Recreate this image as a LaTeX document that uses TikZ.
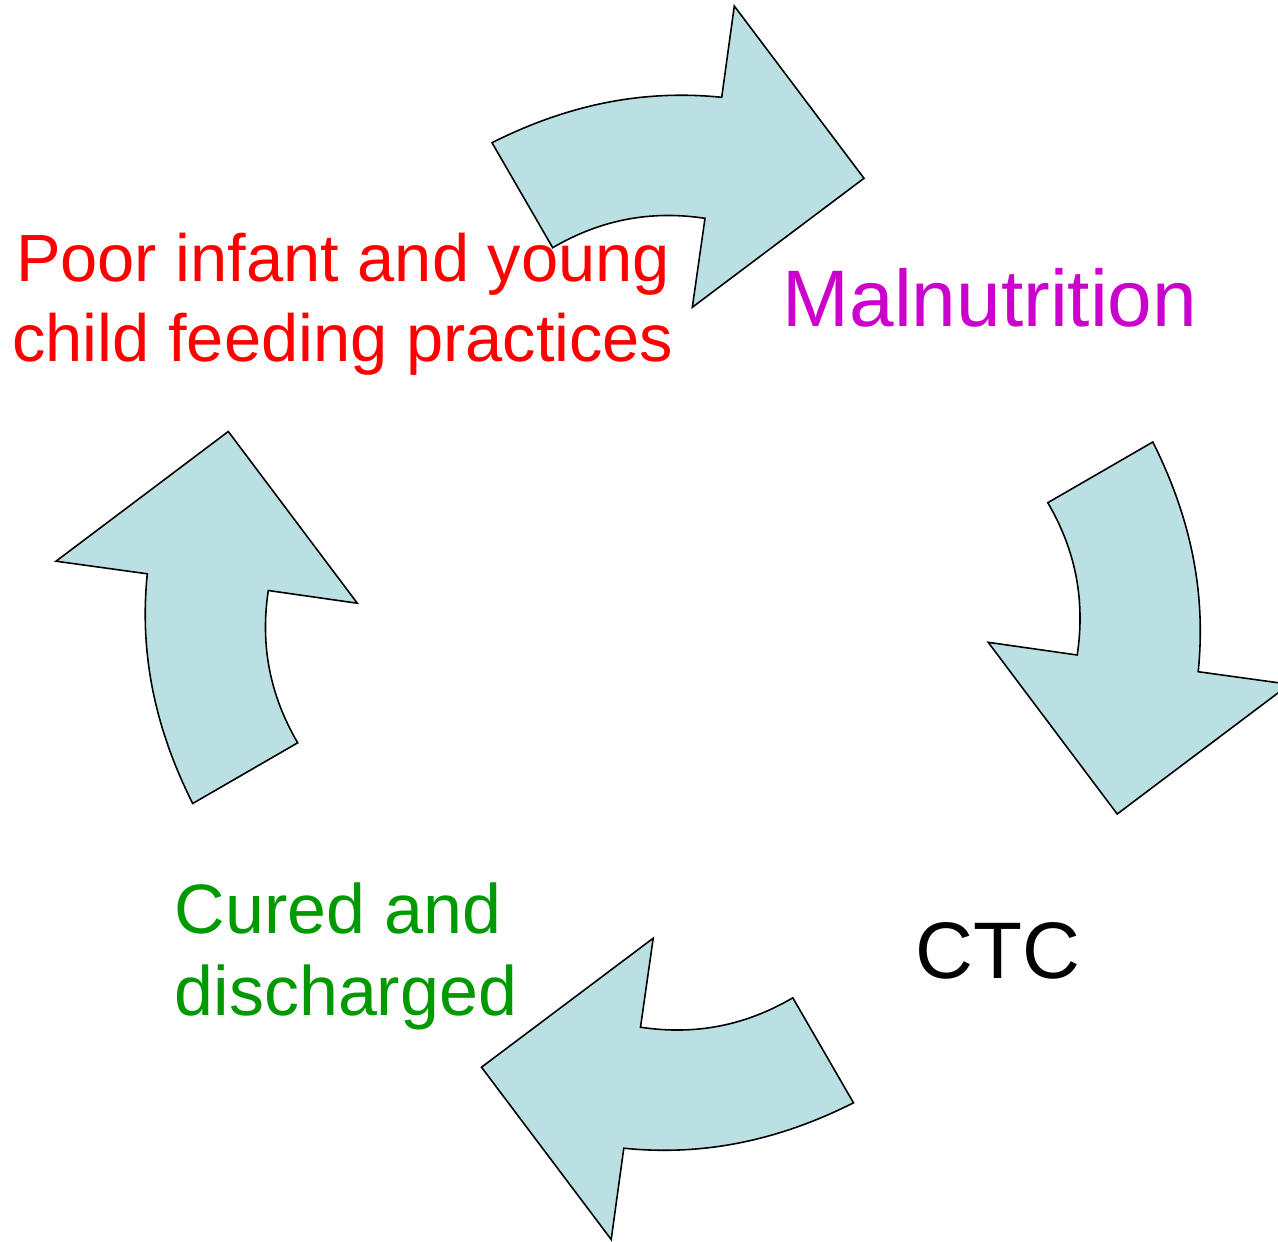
\documentclass[tikz,border=0pt]{standalone}
\usepackage{fontspec}
\setmainfont{Liberation Sans}
\definecolor{arrowfill}{RGB}{186,224,227}
\definecolor{malcolor}{RGB}{204,0,204}
\definecolor{curedcolor}{RGB}{0,153,0}
\tikzset{
    cyclearrow/.style={draw=black, line width=0.45pt, fill=arrowfill, line join=miter},
    biglabel/.style={inner sep=0pt, font=\fontsize{22.8pt}{27pt}\selectfont},
    smalllabel/.style={inner sep=0pt, font=\fontsize{19pt}{22.8pt}\selectfont}
}
\begin{document}
\begin{tikzpicture}[x=0.01cm, y=-0.01cm]
    \useasboundingbox (0,0) rectangle (1278,1242);
    \def\cx{672.75}
    \def\cy{622.75}
    \foreach \a in {0,-90,-180,-270} {
        \draw[cyclearrow, shift={(\cx,\cy)}, rotate=\a]
            (-180.75,-480.05) .. controls (-107.75,-516.75) and (-32.75,-533.75) .. (48.95,-525.45)
            -- (61.55,-616.75) -- (191.25,-444.45) -- (19.55,-315.45) -- (32.25,-404.45)
            .. controls (-22.75,-412.75) and (-72.75,-402.75) .. (-120.05,-375.05) -- cycle;
    }
    \node[smalllabel, red, anchor=base, align=center] (feeding) at (343,361.7)
        {Poor infant and young\\child feeding practices};
    \node[biglabel, malcolor, anchor=base west] (malnutrition) at (782,326) {Malnutrition};
    \node[biglabel, black, anchor=base west] (ctc) at (915,978) {CTC};
    \node[smalllabel, curedcolor, anchor=base west, align=left,
        font=\fontsize{19.9pt}{23.3pt}\selectfont] (cured) at (174,1015.7) {Cured and\\discharged};
\end{tikzpicture}
\end{document}
